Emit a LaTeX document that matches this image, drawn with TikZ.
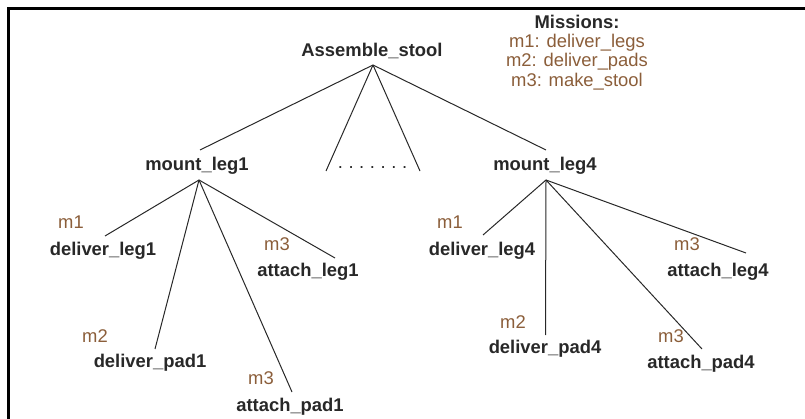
\documentclass[tikz,border=0pt]{standalone}
\usepackage{fontspec}
\setmainfont{Liberation Sans}
\definecolor{ink}{RGB}{40,40,40}
\definecolor{mission}{RGB}{139,94,58}
\begin{document}
\begin{tikzpicture}[x=1pt,y=-1pt,
  task/.style={inner sep=0pt,text=ink,font=\fontsize{18.4}{20}\selectfont\bfseries},
  mtag/.style={inner sep=0pt,text=mission,font=\fontsize{18.4}{20}\selectfont},
  edge/.style={draw=ink,line width=1pt}]
\useasboundingbox (0,0) rectangle (805,419);
% frame (runs off the page on the right and bottom)
\draw[line width=2.4pt,black] (8.5,430) -- (8.5,8.5) -- (815,8.5);

% mission legend
\node[task] (legend) at (577,22) {Missions:};
\node[mtag] (l1) at (577,43) {m1: deliver\_legs};
\node[mtag] (l2) at (577,62) {m2: deliver\_pads};
\node[mtag] (l3) at (577,82) {m3: make\_stool};

% root
\node[task] (root) at (372,51) {Assemble\_stool};
\coordinate (rootp) at (373,65);

% first level
\node[task] (ml1) at (197,166) {mount\_leg1};
\node[task] (ml4) at (545,166) {mount\_leg4};
\coordinate (ml1top) at (200,150);
\coordinate (ml4top) at (546,150);
\coordinate (ml1p) at (199,180);
\coordinate (ml4p) at (546,180);
\coordinate (gapl) at (326,171);
\coordinate (gapr) at (420,171);
\node[inner sep=0pt,text=ink] (dots) at (372.5,168)
  {\fontsize{18.4}{20}\selectfont .\hspace{5.6pt}.\hspace{5.6pt}.\hspace{5.6pt}.\hspace{5.6pt}.\hspace{5.6pt}.\hspace{5.6pt}.};

\draw[edge] (rootp) -- (ml1top);
\draw[edge] (rootp) -- (gapl);
\draw[edge] (rootp) -- (gapr);
\draw[edge] (rootp) -- (ml4top);

% subtree of mount_leg1
\node[task] (dl1) at (103,251) {deliver\_leg1};
\node[task] (al1) at (308,272) {attach\_leg1};
\node[task] (dp1) at (150,363) {deliver\_pad1};
\node[task] (ap1) at (290,407) {attach\_pad1};
\node[mtag] (dl1m) at (71,222) {m1};
\node[mtag] (al1m) at (277,244) {m3};
\node[mtag] (dp1m) at (95,336) {m2};
\node[mtag] (ap1m) at (261,378) {m3};
\coordinate (dl1t) at (105,236);
\coordinate (al1t) at (335,258);
\coordinate (dp1t) at (155,349);
\coordinate (ap1t) at (292,392);
\draw[edge] (ml1p) -- (dl1t);
\draw[edge] (ml1p) -- (dp1t);
\draw[edge] (ml1p) -- (ap1t);
\draw[edge] (ml1p) -- (al1t);

% subtree of mount_leg4
\node[task] (dl4) at (482,251) {deliver\_leg4};
\node[task] (al4) at (718,272) {attach\_leg4};
\node[task] (dp4) at (545,349) {deliver\_pad4};
\node[task] (ap4) at (701,364) {attach\_pad4};
\node[mtag] (dl4m) at (450,222) {m1};
\node[mtag] (al4m) at (687,244) {m3};
\node[mtag] (dp4m) at (513,322) {m2};
\node[mtag] (ap4m) at (671,336) {m3};
\coordinate (dl4t) at (483,235);
\coordinate (al4t) at (746,253);
\coordinate (dp4t) at (545.5,335);
\coordinate (ap4t) at (702,349);
\draw[edge] (ml4p) -- (dl4t);
\draw[edge] (ml4p) -- (dp4t);
\draw[edge] (ml4p) -- (ap4t);
\draw[edge] (ml4p) -- (al4t);
\end{tikzpicture}
\end{document}
